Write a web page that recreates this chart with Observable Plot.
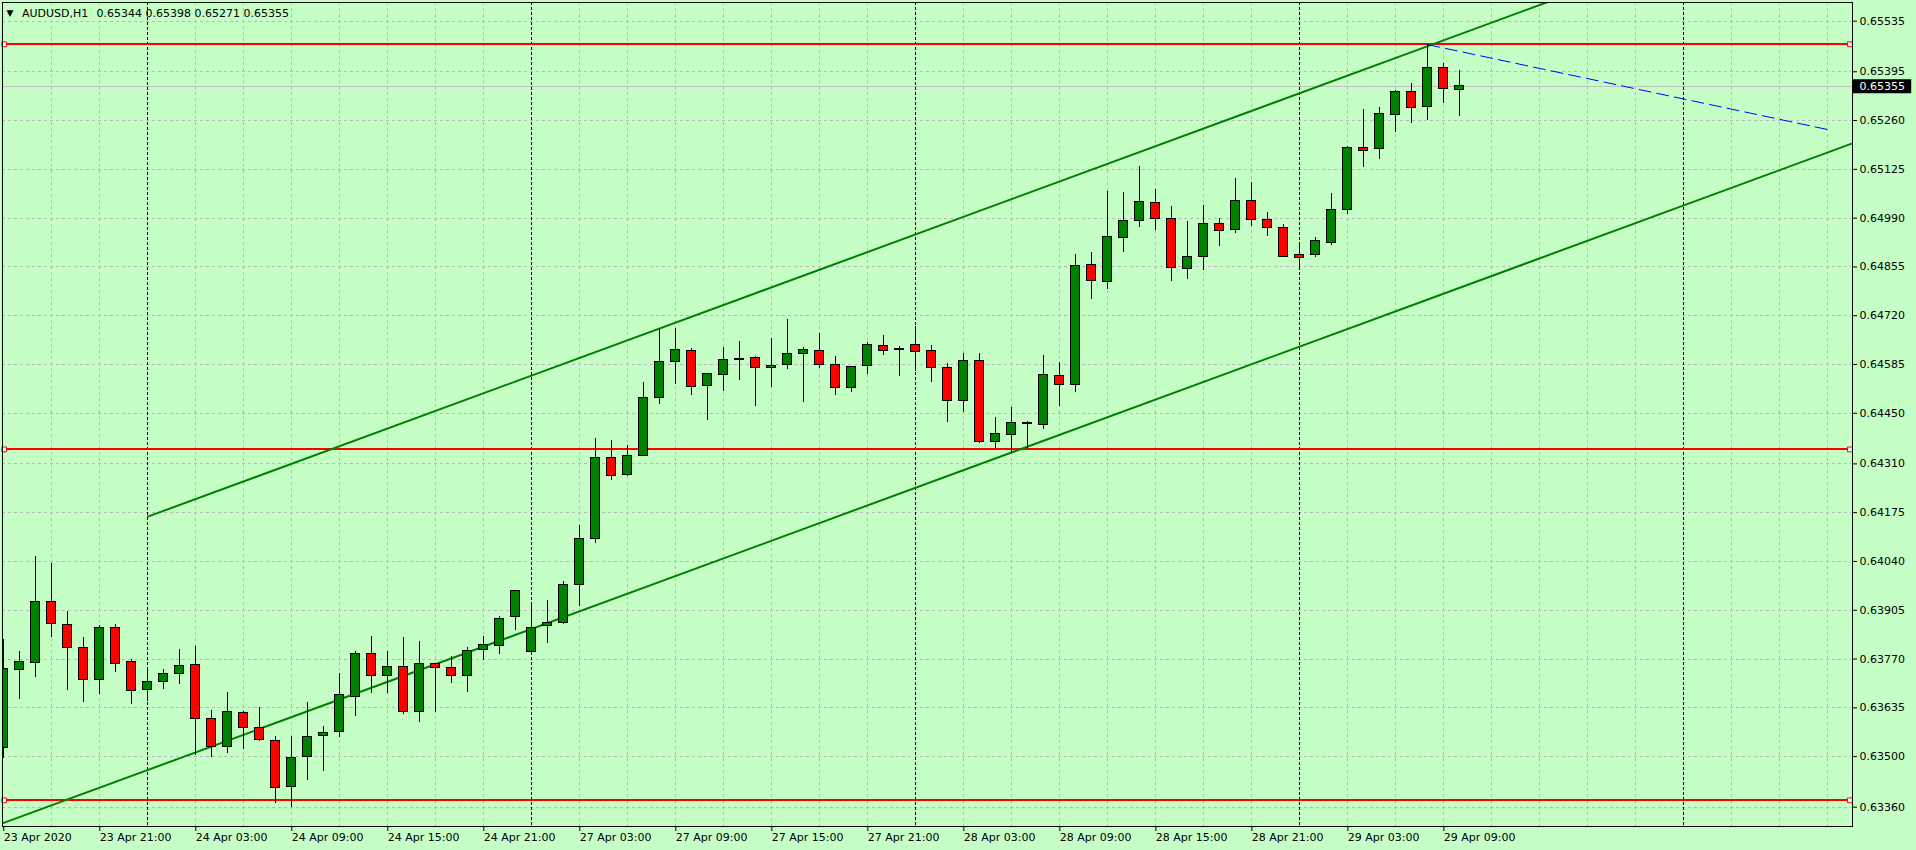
<!DOCTYPE html>
<html><head><meta charset="utf-8">
<script src="https://cdn.jsdelivr.net/npm/d3@7"></script>
<script src="https://cdn.jsdelivr.net/npm/@observablehq/plot@0.6"></script>
<style>
html,body{margin:0;padding:0;background:#c6ffc6;overflow:hidden}
svg{display:block}
</style></head><body><div id="chart"></div>
<script>
// ---------- data ----------
const symbol = "AUDUSD,H1";
// trading sessions shown (day label, first hour, last hour)
const sessions = [["23 Apr",15,23],["24 Apr",0,23],["27 Apr",0,23],["28 Apr",0,23],["29 Apr",0,10]];
const open = [0.63524,0.63740,0.63760,0.63928,0.63865,0.63801,0.63711,0.63856,0.63762,0.63685,
0.63707,0.63729,0.63754,0.63605,0.63527,0.63621,0.63580,0.63544,0.63416,0.63499,
0.63558,0.63569,0.63665,0.63784,0.63724,0.63748,0.63624,0.63756,0.63746,0.63724,
0.63796,0.63807,0.63887,0.63790,0.63862,0.63870,0.63974,0.64103,0.64327,0.64280,
0.64332,0.64493,0.64592,0.64623,0.64526,0.64557,0.64598,0.64604,0.64576,0.64584,
0.64615,0.64623,0.64584,0.64521,0.64581,0.64637,0.64628,0.64640,0.64623,0.64576,
0.64485,0.64595,0.64371,0.64390,0.64421,0.64418,0.64554,0.64529,0.64861,0.64814,
0.64936,0.64983,0.65032,0.64988,0.64850,0.64883,0.64974,0.64958,0.65038,0.64985,
0.64963,0.64889,0.64889,0.64922,0.65013,0.65185,0.65182,0.65276,0.65340,0.65298,
0.65406,0.65344];
const high = [0.63823,0.63791,0.64054,0.64035,0.63902,0.63830,0.63863,0.63865,0.63769,0.63743,
0.63740,0.63796,0.63805,0.63628,0.63677,0.63626,0.63635,0.63555,0.63555,0.63650,
0.63582,0.63730,0.63790,0.63832,0.63790,0.63829,0.63818,0.63758,0.63776,0.63802,
0.63832,0.63887,0.63961,0.63926,0.63931,0.63985,0.64140,0.64379,0.64374,0.64360,
0.64534,0.64681,0.64685,0.64628,0.64561,0.64631,0.64648,0.64606,0.64656,0.64709,
0.64631,0.64670,0.64606,0.64580,0.64645,0.64665,0.64634,0.64690,0.64638,0.64587,
0.64615,0.64615,0.64438,0.64465,0.64426,0.64609,0.64590,0.64889,0.64894,0.65065,
0.65060,0.65132,0.65068,0.65021,0.64980,0.65024,0.64988,0.65099,0.65088,0.65005,
0.64972,0.64922,0.64936,0.65057,0.65187,0.65290,0.65295,0.65342,0.65362,0.65470,
0.65417,0.65398];
const low = [0.63495,0.63657,0.63720,0.63830,0.63684,0.63651,0.63673,0.63734,0.63645,0.63653,
0.63687,0.63700,0.63502,0.63498,0.63509,0.63520,0.63543,0.63371,0.63360,0.63435,
0.63460,0.63554,0.63612,0.63674,0.63675,0.63616,0.63594,0.63622,0.63703,0.63678,
0.63765,0.63783,0.63848,0.63787,0.63812,0.63865,0.63916,0.64091,0.64263,0.64274,
0.64330,0.64473,0.64531,0.64498,0.64431,0.64511,0.64542,0.64470,0.64522,0.64570,
0.64481,0.64573,0.64500,0.64508,0.64558,0.64611,0.64553,0.64566,0.64536,0.64425,
0.64453,0.64366,0.64352,0.64338,0.64352,0.64404,0.64469,0.64508,0.64766,0.64793,
0.64894,0.64965,0.64957,0.64814,0.64819,0.64844,0.64911,0.64947,0.64968,0.64938,
0.64881,0.64847,0.64880,0.64913,0.65001,0.65129,0.65151,0.65226,0.65251,0.65259,
0.65306,0.65271];
const close = [0.63743,0.63762,0.63928,0.63866,0.63801,0.63711,0.63856,0.63757,0.63682,0.63707,
0.63729,0.63751,0.63605,0.63527,0.63624,0.63580,0.63546,0.63414,0.63497,0.63555,
0.63566,0.63671,0.63784,0.63724,0.63748,0.63624,0.63757,0.63746,0.63724,0.63793,
0.63809,0.63881,0.63958,0.63856,0.63870,0.63974,0.64103,0.64327,0.64277,0.64332,
0.64493,0.64592,0.64626,0.64523,0.64559,0.64598,0.64601,0.64576,0.64581,0.64615,
0.64626,0.64584,0.64521,0.64579,0.64640,0.64623,0.64626,0.64620,0.64576,0.64485,
0.64595,0.64371,0.64393,0.64424,0.64424,0.64557,0.64529,0.64858,0.64817,0.64938,
0.64983,0.65035,0.64988,0.64853,0.64883,0.64974,0.64955,0.65038,0.64985,0.64963,
0.64883,0.64880,0.64927,0.65013,0.65185,0.65176,0.65279,0.65340,0.65295,0.65406,
0.65348,0.65355];

const yTicks = [0.65535,0.65395,0.65260,0.65125,0.64990,0.64855,0.64720,0.64585,0.64450,
0.64310,0.64175,0.64040,0.63905,0.63770,0.63635,0.63500,0.63360];
const xTickIdx = [0,6,12,18,24,30,36,42,48,54,60,66,72,78,84,90];
const xTickLabels = ["23 Apr 2020","23 Apr 21:00","24 Apr 03:00","24 Apr 09:00","24 Apr 15:00",
"24 Apr 21:00","27 Apr 03:00","27 Apr 09:00","27 Apr 15:00","27 Apr 21:00","28 Apr 03:00",
"28 Apr 09:00","28 Apr 15:00","28 Apr 21:00","29 Apr 03:00","29 Apr 09:00"];
const daySeparatorIdx = [9,33,57,81,105];   // 24 Apr, 27 Apr, 28 Apr, 29 Apr, 30 Apr 00:00
const horizontalLevels = [0.65471,0.64350,0.63379];
// trend channel (bar index, price)
const channelUpper = [{k:9,p:0.64164},{k:89,p:0.65466},{k:125,p:0.66052}];
const channelLower = [{k:-2,p:0.63284},{k:89,p:0.64765},{k:125,p:0.65351}];
const blueTrend = [{k:89,p:0.65470},{k:114,p:0.65235}];

// ---------- build ----------
const times = sessions.flatMap(([d,h0,h1]) => d3.range(h0,h1+1).map(h => `${d} ${String(h).padStart(2,"0")}:00`));
const bars = open.map((o,i)=>({k:i, time:times[i], open:o, high:high[i], low:low[i], close:close[i]}));
const last = bars[bars.length-1];

const xDomain = [-0.08, 115.54];
const yDomain = [0.633066, 0.655867];
const gridIdx = d3.range(3,116,3).filter(k => !daySeparatorIdx.includes(k));
const fmt = d3.format(".5f");
const GRID = "#b9b9b9";

const chart = Plot.plot({
  width:1916, height:850,
  marginLeft:2, marginRight:64, marginTop:2, marginBottom:24,
  x:{domain:xDomain},
  y:{domain:yDomain},
  color:{type:"identity"},
  style:{background:"#c6ffc6", fontFamily:"DejaVu Sans", fontSize:"11px", color:"black", overflow:"visible"},
  marks:[
    Plot.ruleY(yTicks,{stroke:GRID, strokeDasharray:"3,3", shapeRendering:"crispEdges"}),
    Plot.ruleX(gridIdx,{stroke:GRID, strokeDasharray:"3,3", shapeRendering:"crispEdges"}),
    Plot.ruleX(daySeparatorIdx,{stroke:"black", strokeDasharray:"3,2", shapeRendering:"crispEdges"}),
    Plot.ruleY([last.close],{stroke:"#c0c0c0", shapeRendering:"crispEdges"}),
    Plot.ruleY(horizontalLevels,{stroke:"#ff0000", strokeWidth:2, shapeRendering:"crispEdges"}),
    Plot.line(channelUpper,{x:"k", y:"p", stroke:"#008000", strokeWidth:2, clip:true}),
    Plot.line(channelLower,{x:"k", y:"p", stroke:"#008000", strokeWidth:2, clip:true}),
    Plot.line(blueTrend,{x:"k", y:"p", stroke:"#0000ff", strokeWidth:1, strokeDasharray:"12,6"}),
    Plot.ruleX(bars,{x:"k", y1:"low", y2:"high", stroke:"black", clip:true, shapeRendering:"crispEdges"}),
    Plot.rect(bars,{x1:d=>d.k-0.28, x2:d=>d.k+0.28, y1:"open", y2:"close",
      fill:d=>d.close>=d.open?"#008000":"#ff0000", stroke:"black", clip:true, shapeRendering:"crispEdges"}),
    Plot.dot(horizontalLevels.flatMap(p=>[{k:xDomain[0]+0.11,p},{k:xDomain[1]-0.16,p}]),
      {x:"k", y:"p", symbol:"square", r:2.7, stroke:"#ff0000", fill:"white", strokeWidth:1}),
    Plot.frame({stroke:"black"}),
    Plot.axisY({ticks:yTicks, anchor:"right", tickFormat:fmt, tickSize:4, tickPadding:3, label:null, textAnchor:"start"}),
    Plot.axisX({ticks:xTickIdx, anchor:"bottom", tickFormat:d=>xTickLabels[xTickIdx.indexOf(d)], tickSize:5, tickPadding:2, label:null, textAnchor:"start", dx:0}),
    // current price marker on the price axis
    Plot.ruleY([last.close],{x1:xDomain[1]+0.06, x2:xDomain[1]+3.7, stroke:"black", strokeWidth:14}),
    Plot.text([last.close],{x:xDomain[1], y:d=>d, text:fmt, dx:7, textAnchor:"start", fill:"white"}),
    // header
    Plot.text(["▼"],{frameAnchor:"top-left", dx:4, dy:10.7, lineAnchor:"middle", textAnchor:"start", fontSize:9, fill:"black"}),
    Plot.text([symbol],{frameAnchor:"top-left", dx:19.5, dy:10.7, lineAnchor:"middle", textAnchor:"start", fill:"black"}),
    Plot.text([[last.open,last.high,last.low,last.close].map(fmt).join(" ")],{frameAnchor:"top-left", dx:94, dy:10.7, lineAnchor:"middle", textAnchor:"start", fill:"black"})
  ]
});
document.getElementById("chart").appendChild(chart);
</script></body></html>
